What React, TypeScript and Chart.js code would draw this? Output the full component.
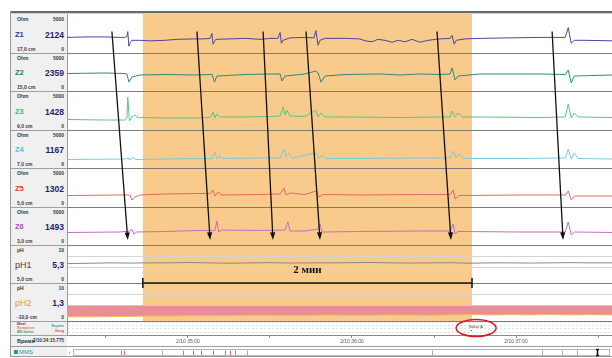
import React, { useEffect, useRef } from 'react';
import { Chart, registerables } from 'chart.js';
Chart.register(...registerables);

// ---- time axis (seconds after 2/10 34:00) ----
const timeMin = 15.775;
const timeMax = 215.1;
const orangeStart = 43.5;
const orangeEnd = 163.9;

// ---- channel labels ----
const channelIds = ['yZ1', 'yZ2', 'yZ3', 'yZ4', 'yZ5', 'yZ6', 'yPH1', 'yPH2'];
const channelNames = ['Z1', 'Z2', 'Z3', 'Z4', 'Z5', 'Z6', 'pH1', 'pH2'];
const channelValues = ['2124', '2359', '1428', '1167', '1302', '1493', '5,3', '1,3'];
const channelDepths = ['17,0 cm', '15,0 cm', '9,0 cm', '7,0 cm', '5,0 cm', '3,0 cm', '5,0 cm', '-10,0 cm'];
const channelUnits = ['Ohm', 'Ohm', 'Ohm', 'Ohm', 'Ohm', 'Ohm', 'pH', 'pH'];
const channelMaxLabels = ['5000', '5000', '5000', '5000', '5000', '5000', '10', '10'];
const channelMax = [5000, 5000, 5000, 5000, 5000, 5000, 10, 10];
const labelColors = ['#34349a', '#1d7a6b', '#45b574', '#55c3da', '#e23b3b', '#b052b4', '#444444', '#f09a28'];
const traceColors = ['#4646a6', '#2f8a7a', '#5cc48a', '#76cde0', '#e76666', '#c86cc8', '#8a8a8a', '#f2bc58'];
const rowHeights = [39, 38, 39, 38, 39, 38, 38, 38];
const eventRowHeight = 14;

// ---- impedance traces [time s, Ohm] ----
const z1 = [[15.8,2000],[22.3,2060],[29.6,2060],[35.1,2000],[36.9,2000],[37.7,2125],[38.0,2750],[38.4,875],[39.0,1375],[39.5,1625],[42.4,1625],[46.1,1560],[51.6,1625],[56.0,1750],[62.6,1810],[66.2,1810],[68.1,1875],[68.8,2500],[69.2,1125],[69.7,1500],[70.2,1750],[75.4,1810],[80.9,1875],[86.4,1750],[90.0,1875],[92.9,1875],[93.7,2625],[94.2,1250],[94.8,1625],[97.3,1940],[102.8,2000],[106.1,1940],[106.8,2875],[107.6,1000],[108.3,1625],[110.1,1875],[117.5,1875],[122.9,1810],[124.8,1560],[127.3,1440],[129.5,1750],[132.1,1625],[134.7,1375],[136.9,1625],[139.4,1440],[142.0,1750],[144.9,1375],[147.8,1625],[152.2,1810],[155.9,1875],[156.6,2250],[157.4,1125],[158.1,1625],[161.4,1810],[166.9,1875],[177.9,1940],[188.8,2000],[198.0,2000],[199.1,3250],[200.2,1250],[201.3,1625],[205.3,1625],[215.2,1560]];
const z2 = [[15.8,2300],[29.6,2370],[36.9,2300],[37.7,2240],[38.4,1180],[39.5,1840],[42.4,2105],[51.6,2170],[62.6,2105],[68.1,2170],[68.8,2240],[69.7,1180],[70.6,1970],[80.9,2170],[90.0,2240],[93.7,2240],[94.4,1320],[95.5,1970],[102.8,2240],[106.8,2630],[107.6,2370],[108.7,1180],[110.1,1970],[117.5,2170],[130.3,2240],[137.6,2105],[144.9,2240],[152.2,2170],[155.9,2240],[156.6,3030],[157.7,1450],[158.8,1970],[166.9,2240],[188.8,2240],[198.0,2170],[199.1,2760],[200.2,1050],[201.3,1970],[215.2,2105]];
const z3 = [[15.8,1350],[29.6,1280],[36.9,1280],[37.7,1540],[38.0,4230],[38.6,1150],[39.5,1670],[40.6,1920],[41.7,1540],[42.4,1600],[51.6,1540],[62.6,1540],[68.1,1600],[69.2,2310],[69.9,1540],[70.6,2050],[71.7,1670],[80.9,1670],[90.0,1730],[93.7,1800],[94.8,2950],[95.5,1920],[96.2,2560],[97.3,1800],[102.8,1730],[106.8,2560],[107.6,1670],[108.7,2180],[110.1,1670],[117.5,1670],[137.6,1600],[152.2,1670],[155.9,1670],[156.6,2440],[157.7,1670],[158.8,2180],[160.3,1670],[166.9,1670],[188.8,1600],[198.0,1670],[199.1,3330],[200.2,1540],[201.3,2180],[202.7,1670],[215.2,1600]];
const z4 = [[15.8,1120],[36.9,1180],[38.0,1320],[38.8,1050],[39.9,1380],[41.0,1120],[51.6,1180],[64.4,1250],[68.8,1250],[69.9,2100],[70.6,1180],[71.7,1580],[72.8,1250],[86.4,1320],[93.7,1320],[95.1,2500],[95.9,1450],[97.0,1970],[98.1,1320],[106.8,1970],[107.9,1250],[109.0,1710],[110.5,1250],[122.9,1250],[144.9,1320],[155.9,1320],[157.0,2240],[158.1,1320],[159.2,1840],[160.7,1250],[181.5,1250],[198.0,1320],[199.1,2500],[200.2,1180],[201.3,1970],[202.7,1250],[215.2,1180]];
const z5 = [[15.8,1470],[35.1,1540],[38.8,1540],[39.5,900],[40.6,1280],[42.4,1540],[51.6,1670],[62.6,1730],[68.1,1730],[69.2,2180],[69.9,1410],[71.0,1920],[72.4,1540],[86.4,1600],[93.7,1670],[95.1,2440],[95.9,1540],[97.3,1800],[102.8,1600],[106.8,2050],[107.9,1280],[109.4,1600],[122.9,1540],[144.9,1600],[155.9,1600],[157.0,2180],[157.7,1030],[159.2,1470],[181.5,1540],[198.0,1540],[199.1,2050],[200.2,900],[201.6,1410],[215.2,1410]];
const z6 = [[15.8,1645],[35.1,1710],[38.8,1840],[39.5,2100],[40.2,1450],[41.3,1710],[51.6,1780],[64.4,1910],[69.9,1910],[70.6,3160],[71.3,1710],[72.4,1970],[86.4,1910],[95.5,1970],[96.6,3030],[97.3,1840],[102.8,1840],[107.6,2100],[108.3,2760],[109.0,1710],[122.9,1780],[144.9,1840],[155.9,1840],[157.0,2760],[157.7,1450],[158.8,1780],[181.5,1710],[198.0,1710],[199.1,3030],[200.2,1320],[201.3,1710],[215.2,1645]];

// ---- pH traces ----
const phTimes = [15.8,24.1,31.5,38.8,46.1,53.4,60.7,68.1,75.4,82.7,90.0,97.3,104.7,112.0,119.3,126.6,133.9,141.2,148.6,155.9,163.2,170.5,177.9,185.2,192.5,199.8,207.1,215.2];
const ph1Values = [5.1,5.2,5.3,5.25,5.3,5.3,5.4,5.3,5.2,5.3,5.35,5.25,5.3,5.3,5.35,5.4,5.3,5.25,5.3,5.35,5.2,5.3,5.3,5.25,5.3,5.35,5.3,5.3];
const ph2Values = [1.1,1.1,1.15,1.2,1.3,1.3,1.35,1.4,1.4,1.5,1.5,1.45,1.5,1.55,1.5,1.5,1.6,1.55,1.5,1.6,1.7,1.6,1.65,1.6,1.7,1.6,1.65,1.6];
const refluxThreshold = 4;

// ---- arrows (bolus propagation) ----
const arrowFrom = [32.2, 63.3, 87.5, 103.2, 151.1, 193.2];
const arrowTo = [38.0, 68.1, 91.1, 108.3, 156.2, 197.2];
const arrowTopOhm = 2750;
const arrowBottomOhm = 660;

// ---- events / overview strip ----
const bolusTime = 165.4;
const mmsPink = [35.5, 36.6, 58.2, 61.8, 64.8, 69.1, 73.5, 75.4, 77.2];
const mmsGray = [50.5, 81.6, 149.2, 189.5, 196.8, 202.3];
const mmsCursor = 209.6;

const FONT = "'Liberation Sans', Arial, sans-serif";

const toPts = (arr: number[][]) => arr.map((p) => ({ x: p[0], y: p[1] }));

function makeYScale(i: number) {
  const isPH = channelMax[i] === 10;
  return {
    type: 'linear',
    position: 'left',
    stack: 'rows',
    stackWeight: rowHeights[i],
    weight: 20 - i,
    min: 0,
    max: channelMax[i],
    afterBuildTicks: (s: any) => {
      s.ticks = isPH ? [{ value: 0 }, { value: 4 }, { value: 7 }] : [{ value: 0 }];
    },
    afterFit: (s: any) => { s.width = 57; },
    ticks: { display: false },
    grid: {
      color: (c: any) => (c.tick && c.tick.value === 0 ? '#7c7c7c' : '#d4d4d4'),
      tickColor: (c: any) => (c.tick && c.tick.value === 0 ? '#a0a0a0' : 'rgba(0,0,0,0)'),
      tickLength: 57,
      lineWidth: 1,
    },
    border: { display: true, color: '#9a9a9a' },
  };
}

const overlayPlugin = {
  id: 'overlay',
  beforeDraw(chart: any) {
    const { ctx, scales } = chart;
    const x = scales.x;
    const l = x.getPixelForValue(orangeStart);
    const r = x.getPixelForValue(orangeEnd);
    const top = scales.yZ1.top;
    const bottom = scales.yPH2.bottom;
    ctx.save();
    ctx.fillStyle = '#f8ca8b';
    ctx.fillRect(l, top, r - l, bottom - top);
    ctx.restore();
  },
  afterDatasetsDraw(chart: any) {
    const { ctx, scales } = chart;
    const x = scales.x;
    ctx.save();
    ctx.strokeStyle = '#111';
    ctx.fillStyle = '#111';
    ctx.lineWidth = 1.3;
    arrowFrom.forEach((t0, i) => {
      const x1 = x.getPixelForValue(t0);
      const y1 = scales.yZ1.getPixelForValue(arrowTopOhm);
      const x2 = x.getPixelForValue(arrowTo[i]);
      const y2 = scales.yZ6.getPixelForValue(arrowBottomOhm);
      const a = Math.atan2(y2 - y1, x2 - x1);
      const len = 8;
      ctx.beginPath();
      ctx.moveTo(x1, y1);
      ctx.lineTo(x2 - Math.cos(a) * 5, y2 - Math.sin(a) * 5);
      ctx.stroke();
      ctx.beginPath();
      ctx.moveTo(x2, y2);
      ctx.lineTo(x2 - len * Math.cos(a - 0.33), y2 - len * Math.sin(a - 0.33));
      ctx.lineTo(x2 - len * Math.cos(a + 0.33), y2 - len * Math.sin(a + 0.33));
      ctx.closePath();
      ctx.fill();
    });
    ctx.font = "bold 11px 'Liberation Serif', 'Times New Roman', serif";
    ctx.textAlign = 'center';
    ctx.textBaseline = 'middle';
    ctx.fillText('2 мин', x.getPixelForValue((orangeStart + orangeEnd) / 2), scales.yPH1.getPixelForValue(3.4));
    ctx.restore();
  },
  afterDraw(chart: any) {
    const { ctx, scales, chartArea, width, height } = chart;
    const x = scales.x;
    ctx.save();
    const bx = x.getPixelForValue(bolusTime);
    const by = scales.yEv.getPixelForValue(7);
    ctx.fillStyle = '#8a1a10';
    ctx.font = `4px ${FONT}`;
    ctx.textAlign = 'center';
    ctx.textBaseline = 'middle';
    ctx.fillText('Bolus A', bx, by - 1.5);
    ctx.fillRect(bx - 5, by + 2, 1, 1);
    ctx.strokeStyle = '#d41c1c';
    ctx.lineWidth = 1.4;
    ctx.beginPath();
    ctx.ellipse(bx, by, 20, 8.5, 0, 0, Math.PI * 2);
    ctx.stroke();
    const rowTop = x.bottom;
    ctx.strokeStyle = '#9a9a9a';
    ctx.lineWidth = 1;
    ctx.beginPath();
    ctx.moveTo(0, rowTop + 0.5);
    ctx.lineTo(width, rowTop + 0.5);
    ctx.moveTo(0, height - 1.5);
    ctx.lineTo(width, height - 1.5);
    ctx.stroke();
    const bl = chartArea.left + 6;
    const br = chartArea.right - 2;
    const bt = rowTop + 3;
    const bb = rowTop + 10;
    ctx.fillStyle = '#ffffff';
    ctx.fillRect(bl, bt, br - bl, bb - bt);
    ctx.strokeStyle = '#b8b8b8';
    ctx.strokeRect(bl + 0.5, bt + 0.5, br - bl - 1, bb - bt - 1);
    ctx.fillStyle = '#777';
    ctx.font = `6px ${FONT}`;
    ctx.fillText('‹', chartArea.left + 2.5, (bt + bb) / 2);
    ctx.lineWidth = 1;
    ctx.strokeStyle = '#e0667e';
    mmsPink.forEach((t) => {
      const px = Math.round(x.getPixelForValue(t)) + 0.5;
      ctx.beginPath();
      ctx.moveTo(px, bt + 1.5);
      ctx.lineTo(px, bb - 1);
      ctx.stroke();
    });
    ctx.strokeStyle = '#a8a8a8';
    mmsGray.forEach((t) => {
      const px = Math.round(x.getPixelForValue(t)) + 0.5;
      ctx.beginPath();
      ctx.moveTo(px, bt + 1.5);
      ctx.lineTo(px, bb - 1);
      ctx.stroke();
    });
    const cx = Math.round(x.getPixelForValue(mmsCursor)) + 0.5;
    ctx.strokeStyle = '#111';
    ctx.lineWidth = 1.5;
    ctx.beginPath();
    ctx.moveTo(cx, bt + 0.5);
    ctx.lineTo(cx, bb - 0.5);
    ctx.moveTo(cx - 1.5, bt + 0.5);
    ctx.lineTo(cx + 1.5, bt + 0.5);
    ctx.moveTo(cx - 1.5, bb - 0.5);
    ctx.lineTo(cx + 1.5, bb - 0.5);
    ctx.stroke();
    ctx.restore();
  },
};

function buildConfig(): any {
  const scales: any = {
    x: {
      type: 'linear',
      position: 'bottom',
      min: timeMin,
      max: timeMax,
      afterFit: (s: any) => { s.height = 11; },
      ticks: {
        stepSize: 30,
        includeBounds: false,
        autoSkip: false,
        maxRotation: 0,
        padding: 1,
        color: '#555',
        font: { size: 5, family: FONT },
        callback: (v: any) => (Math.abs(v % 60) < 1e-6 ? `2/10 ${34 + v / 60}:00` : ''),
      },
      grid: { drawOnChartArea: false, drawTicks: true, tickLength: 3, color: '#8a8a8a' },
      border: { display: true, color: '#8a8a8a' },
    },
  };
  channelIds.forEach((id, i) => { scales[id] = makeYScale(i); });
  scales.yEv = {
    type: 'linear',
    position: 'left',
    stack: 'rows',
    stackWeight: eventRowHeight,
    weight: 1,
    min: 0,
    max: 14,
    afterBuildTicks: (s: any) => { s.ticks = [{ value: 0 }, { value: 3 }, { value: 7 }, { value: 10 }, { value: 13 }]; },
    afterFit: (s: any) => { s.width = 57; },
    ticks: { display: false },
    grid: {
      color: (c: any) => {
        const v = c.tick ? c.tick.value : 0;
        return v === 0 ? '#8a8a8a' : v === 3 ? '#f6d6dc' : v === 7 ? '#d2e8ef' : v === 10 ? '#dfe1ea' : '#e6e6e6';
      },
      tickColor: (c: any) => (c.tick && c.tick.value === 0 ? '#a0a0a0' : 'rgba(0,0,0,0)'),
      tickLength: 57,
    },
    border: { display: true, color: '#9a9a9a', dash: [2, 2] },
  };

  const zData = [z1, z2, z3, z4, z5, z6];
  const datasets: any[] = zData.map((d, i) => ({
    data: toPts(d),
    yAxisID: channelIds[i],
    borderColor: traceColors[i],
    borderWidth: 1,
    pointRadius: 0,
    fill: false,
    tension: 0,
  }));
  datasets.push({
    data: phTimes.map((t, i) => ({ x: t, y: ph1Values[i] })),
    yAxisID: 'yPH1',
    borderColor: traceColors[6],
    borderWidth: 1,
    pointRadius: 0,
    fill: false,
  });
  datasets.push({
    data: phTimes.map((t, i) => ({ x: t, y: ph2Values[i] })),
    yAxisID: 'yPH2',
    borderColor: traceColors[7],
    backgroundColor: '#e98d97',
    borderWidth: 1,
    pointRadius: 0,
    fill: { value: refluxThreshold },
  });
  datasets.push({
    data: [{ x: orangeStart, y: 0 }, { x: orangeEnd, y: 0 }],
    yAxisID: 'yPH1',
    borderColor: '#1a1a1a',
    borderWidth: 1.6,
    pointStyle: 'line',
    pointRotation: 90,
    pointRadius: 5,
    pointBorderWidth: 1.6,
    pointBorderColor: '#1a1a1a',
    fill: false,
    clip: false,
  });

  return {
    type: 'line',
    data: { datasets },
    options: {
      animation: false,
      responsive: false,
      maintainAspectRatio: false,
      layout: { autoPadding: false, padding: { top: 0, left: 0, right: 0, bottom: 12 } },
      plugins: { legend: { display: false }, tooltip: { enabled: false } },
      scales,
    },
    plugins: [overlayPlugin],
  };
}

const small: any = { position: 'absolute', fontSize: 5, lineHeight: '6px', fontWeight: 700, color: '#3a3a3a', whiteSpace: 'nowrap' };

export default function App() {
  const ref = useRef<HTMLCanvasElement>(null);
  useEffect(() => {
    const chart = new Chart(ref.current as HTMLCanvasElement, buildConfig());
    return () => chart.destroy();
  }, []);

  let cum = 14;
  const rows = channelNames.map((name, i) => {
    const h = rowHeights[i];
    const top = cum;
    cum += h;
    const isPH = channelMax[i] === 10;
    return (
      <div key={name} style={{ position: 'absolute', left: 10, top, width: 57, height: h }}>
        <span style={{ ...small, left: 7, top: 2 }}>{channelUnits[i]}</span>
        <span style={{ ...small, right: 3, top: 2 }}>{channelMaxLabels[i]}</span>
        <span style={{ position: 'absolute', left: 5, top: h / 2 - 4, fontSize: isPH ? 9 : 7.5, lineHeight: '10px', fontWeight: isPH ? 400 : 700, color: labelColors[i] }}>{name}</span>
        <span style={{ position: 'absolute', right: 3, top: h / 2 - 4, fontSize: 8.5, lineHeight: '10px', fontWeight: 700, color: '#1e1e70' }}>{channelValues[i]}</span>
        <span style={{ ...small, left: 7, bottom: 1 }}>{channelDepths[i]}</span>
        <span style={{ ...small, right: 3, bottom: 1 }}>0</span>
      </div>
    );
  });
  const evTop = cum;

  return (
    <div style={{ position: 'absolute', left: 0, top: 0, width: 612, height: 358, overflow: 'hidden', background: '#fff', fontFamily: FONT }}>
      <div style={{ position: 'absolute', left: 10, top: 14, width: 57, height: 343, background: '#f0f0f0' }} />
      <div style={{ position: 'absolute', left: 10, top: 11, width: 602, height: 2, background: '#6a6a6a' }} />
      <div style={{ position: 'absolute', left: 10, top: 13, width: 602, height: 1, background: '#d0d0d0' }} />
      <div style={{ position: 'absolute', left: 10, top: 11, width: 1, height: 346, background: '#9a9a9a' }} />
      {rows}
      <div style={{ position: 'absolute', left: 10, top: evTop, width: 57, height: eventRowHeight }}>
        <span style={{ ...small, fontSize: 3.8, lineHeight: '4px', left: 7, top: 1, color: '#7a2d8c' }}>Meal</span>
        <span style={{ ...small, fontSize: 3.8, lineHeight: '4px', left: 7, top: 5, color: '#e0801c' }}>Symptom</span>
        <span style={{ ...small, fontSize: 3.8, lineHeight: '4px', left: 7, top: 9, color: '#22a07a' }}>MII-bolus</span>
        <span style={{ ...small, fontSize: 3.8, lineHeight: '4px', right: 3, top: 3, color: '#1fa2a6' }}>Supine</span>
        <span style={{ ...small, fontSize: 3.8, lineHeight: '4px', right: 3, top: 7.5, color: '#e0406a' }}>Drug</span>
      </div>
      <div style={{ position: 'absolute', left: 10, top: evTop + eventRowHeight, width: 57, height: 11 }}>
        <span style={{ ...small, fontSize: 5.5, left: 7, top: 3, color: '#333' }}>Время</span>
        <span style={{ ...small, fontSize: 4.6, right: 3, top: 3, color: '#333' }}>2/10:34:15.775</span>
      </div>
      <div style={{ position: 'absolute', left: 10, top: evTop + eventRowHeight + 11, width: 57, height: 12 }}>
        <span style={{ position: 'absolute', left: 4, top: 4, width: 4, height: 4, background: '#1aa08e' }} />
        <span style={{ ...small, fontSize: 6, lineHeight: '7px', left: 9, top: 2.5, fontWeight: 400, color: '#1aa08e' }}>MMS</span>
      </div>
      <canvas ref={ref} width={602} height={344} style={{ position: 'absolute', left: 10, top: 14, width: 602, height: 344 }} />
    </div>
  );
}
